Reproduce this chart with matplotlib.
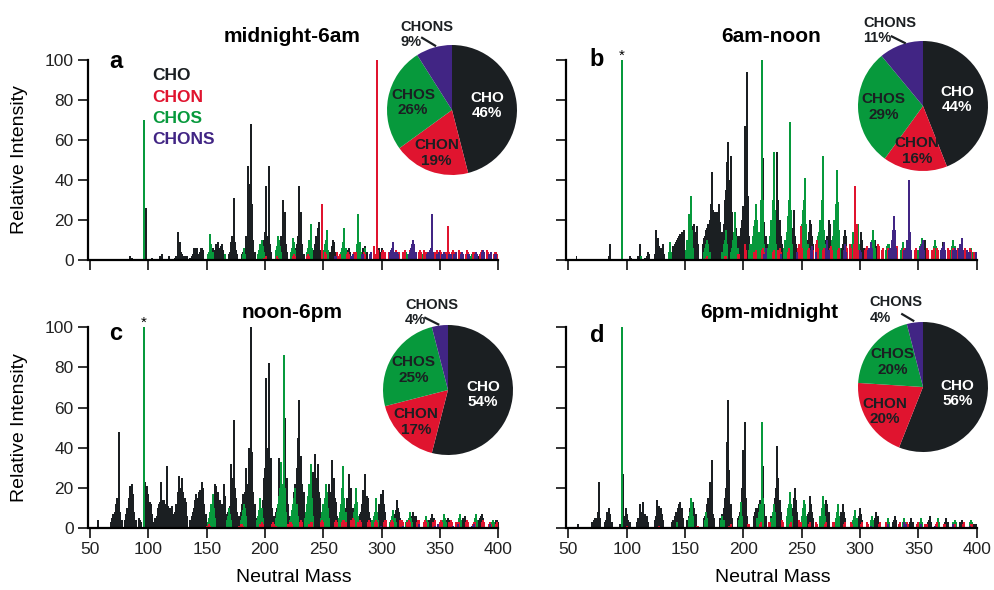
import numpy as np
import matplotlib
matplotlib.use("Agg")
import matplotlib.pyplot as plt

plt.rcParams['font.family'] = ['Liberation Sans', 'DejaVu Sans']

W, H = 994, 590

CLASSES = ['CHO', 'CHON', 'CHOS', 'CHONS']
COLORS = {'CHO': '#1b1f22', 'CHON': '#e0142f', 'CHOS': '#07993c', 'CHONS': '#412584'}

# Peak clusters: (first nominal mass, intensities at consecutive masses)
A_CHO = [(84, [2, 1, 1]), (98, [26]), (103, [1]), (110, [2, 1, 3]), (118, [2]),
         (123, [1, 2, 14, 5, 9, 4, 3, 2]), (131, [2, 1, 2]),
         (136, [1, 2, 3, 6, 6, 5, 6, 3, 4, 6, 6, 5]), (151, [2, 3, 4, 3, 6]),
         (157, [5, 8, 7, 9, 6, 7, 8, 5]), (169, [3, 4, 9, 12, 31, 9, 5, 3]),
         (180, [3, 4, 6, 5, 12, 47, 38, 20, 68, 28, 10, 4]), (196, [3, 4, 6, 10, 14, 37, 12, 47, 8, 4]),
         (210, [3, 4, 6, 8, 12, 30, 10, 24, 8, 4]), (224, [3, 4, 6, 8, 12, 37, 10, 24, 8, 3]),
         (240, [3, 4, 5, 8, 12, 16, 19, 5, 3]), (255, [3, 4, 7, 10, 9, 4]), (269, [3, 5, 4, 6, 4]),
         (283, [3, 6, 5, 7, 4]), (297, [3, 6, 4, 6, 3]), (311, [3, 4, 3, 3]), (325, [2, 3, 2, 3]),
         (339, [2, 3, 2]), (353, [2, 3, 2]), (367, [2, 3, 2]), (383, [2, 2]), (397, [2])]
A_CHON = [(199, [1, 1, 2]), (210, [2, 1]), (224, [2, 3, 2]), (236, [2, 3, 2]), (249, [28]), (251, [4, 3]),
          (262, [4, 2, 3]), (270, [3, 4, 3]), (276, [4, 3, 4]), (284, [3, 4, 3]), (293, [7, 3, 3, 100, 5]),
          (300, [4, 5, 3, 4]), (306, [4, 3, 5, 4]), (312, [5, 4, 3, 4]), (318, [4, 3, 5]), (324, [5, 4, 4, 3]),
          (332, [4, 5, 4]), (336, [5, 3, 4]), (346, [4, 5, 4]), (350, [5, 4, 3]), (355, [4, 3, 17, 4]),
          (360, [4, 5, 4]), (366, [5, 4, 3]), (372, [3, 5, 4]), (378, [4, 3, 4]), (384, [3, 4, 5]),
          (390, [5, 4, 3]), (396, [3, 4, 4, 3])]
A_CHOS = [(96, [70]), (151, [3, 4, 13, 8, 4]), (166, [3]), (181, [3, 6, 3]), (194, [3, 5, 8, 10, 7, 4]),
          (209, [5, 7, 12, 10, 7, 4]), (222, [4, 6, 11, 9, 5]), (236, [4, 6, 10, 18, 6]),
          (250, [5, 8, 10, 15, 5]), (265, [4, 6, 9, 16, 6]), (278, [4, 8, 23, 9, 4]), (286, [6]),
          (293, [4, 3]), (306, [3, 3, 2, 3]), (320, [3, 4, 3]), (334, [3, 3]), (348, [2, 3]), (362, [3, 2]),
          (376, [2, 3]), (390, [2, 3])]
A_CHONS = [(260, [2, 2]), (274, [2, 3]), (283, [3, 3]), (290, [3, 4]), (307, [4, 5, 6, 9, 4]), (313, [4, 3]),
           (323, [3, 4, 6, 8, 10, 8, 4]), (339, [3, 4, 5, 6, 23, 4]), (347, [3, 3, 4]), (352, [3, 4, 3]),
           (358, [3, 3]), (362, [3, 3, 4]), (368, [3, 4, 3]), (374, [3, 3]), (380, [3, 4, 3]),
           (386, [4, 5, 4]), (392, [3, 3, 4]), (397, [3, 3])]

B_CHO = [(57, [2]), (85, [2, 8]), (103, [2, 1]), (110, [2, 8]), (116, [1, 2, 4, 3]),
         (124, [3, 15, 6, 11, 7, 6, 4, 8, 3]), (138, [3, 4, 7, 8, 9, 10, 11, 12, 13, 14, 13, 15]),
         (152, [6, 8, 9, 12, 17, 15, 18, 14, 17, 8]),
         (165, [8, 11, 12, 15, 16, 18, 20, 28, 44, 25, 22, 24, 24, 20, 28, 19, 14]),
         (182, [14, 18, 30, 35, 49, 59, 40, 52, 24, 12]),
         (192, [8, 10, 16, 12, 10, 12, 16, 20, 27, 67, 50, 94, 32, 12, 6]),
         (207, [6, 8, 10, 8, 10, 12, 10, 14, 14, 35, 51, 19, 12, 8]),
         (224, [6, 8, 10, 12, 20, 54, 30, 20, 12, 8]), (238, [6, 8, 10, 12, 16, 25, 12, 8, 5]),
         (253, [6, 8, 10, 14, 20, 18, 12, 8]), (269, [6, 8, 10, 12, 20, 18, 10, 6]),
         (284, [6, 8, 12, 15, 12, 6]), (299, [6, 8, 14, 10, 6]), (312, [6, 10, 7, 5]), (326, [6, 9, 7, 5]),
         (340, [6, 9, 6, 4]), (355, [6, 10, 6, 4]), (370, [6, 9, 6, 4]), (385, [5, 8, 5, 4]), (398, [3, 4])]
B_CHON = [(168, [1, 2]), (184, [2, 2]), (195, [3, 3]), (201, [8, 5]), (209, [4, 3, 5]), (216, [5, 6, 4]),
          (225, [4, 5]), (230, [5, 6, 4]), (238, [4, 6]), (247, [6, 8, 17, 6]), (255, [5, 6]), (259, [6, 5]),
          (262, [8, 10, 6]), (268, [5, 6]), (274, [6, 7, 5]), (281, [5, 6]), (287, [6, 7, 6]), (291, [8, 6]),
          (295, [8, 37, 18, 5]), (304, [5, 6, 7]), (309, [7, 6]), (315, [8, 7]), (319, [5, 6]), (324, [6, 5]),
          (330, [5, 6, 7]), (337, [5, 6]), (343, [6, 5]), (347, [5, 6]), (351, [6, 5]), (357, [6, 5]),
          (362, [5, 6]), (366, [6, 5]), (371, [5, 6]), (375, [6, 5]), (379, [5, 6]), (384, [6, 5]),
          (389, [5, 6]), (394, [6, 5]), (398, [4, 4])]
B_CHOS = [(96, [100]), (112, [2]), (136, [4, 9, 4]), (151, [5, 10, 23, 15, 32, 15, 6]),
          (166, [4, 6, 8, 10, 8, 4]), (182, [4, 8, 10, 15, 8]), (189, [4, 6, 10, 14, 24, 12, 6]),
          (205, [5, 8, 8, 12, 17, 20, 28, 20, 14, 14, 30, 100, 30, 8]), (221, [6, 8, 12, 20, 30, 54, 25, 8]),
          (235, [6, 10, 14, 22, 30, 69, 25, 8]), (248, [8, 12, 18, 25, 30, 41, 18, 8]),
          (263, [8, 12, 14, 20, 30, 52, 15, 8]), (276, [10, 12, 20, 28, 45, 29, 15, 6]),
          (292, [6, 8, 14, 12, 10, 8, 18, 8]), (308, [6, 8, 10, 15, 10, 6]), (322, [5, 7, 8, 8, 5]),
          (335, [5, 6, 9, 6, 4]), (350, [5, 7, 8, 11, 6]), (362, [5, 7, 10, 7, 4]), (378, [5, 7, 10, 7]),
          (393, [4, 5, 6, 4])]
B_CHONS = [(218, [3, 6]), (232, [3]), (246, [4]), (258, [5, 7]), (262, [4]), (271, [6, 10, 5]),
           (286, [5, 8, 4]), (300, [5, 4]), (307, [5, 6, 9, 6]), (325, [5, 6, 10, 15, 22, 15, 6]),
           (338, [5, 6, 10, 8, 40, 14, 5]), (351, [6, 7, 8, 10, 5]), (369, [5, 6, 7, 9, 5]),
           (380, [5, 6, 5]), (385, [6, 8, 11, 5]), (392, [5, 4, 4]), (399, [4])]

C_CHO = [(57, [4]), (68, [3, 5, 7, 8, 12, 15, 10, 48, 8, 4]), (80, [4, 7, 10, 15, 21, 14, 22, 17, 8, 4]),
         (92, [5, 4, 3]), (97, [23, 18, 21, 17, 13, 12, 7, 3]),
         (106, [5, 6, 10, 12, 13, 23, 14, 14, 12, 9, 31, 11, 10, 10, 11, 7, 5]),
         (123, [8, 12, 18, 26, 14, 20, 25, 18, 15, 13, 6]),
         (136, [4, 6, 8, 10, 14, 17, 15, 18, 19, 17, 23, 20, 12, 7]),
         (152, [4, 6, 8, 10, 14, 22, 21, 15, 18, 14, 12, 6]), (164, [12, 22, 16, 7]),
         (168, [8, 10, 11, 32, 25, 54, 20, 15, 8, 6]),
         (178, [6, 8, 12, 17, 14, 18, 30, 22, 40, 35, 100, 38, 18, 12, 5]),
         (193, [5, 6, 7, 8, 10, 14, 25, 30, 75, 40, 82, 30, 35, 10, 5]),
         (208, [6, 8, 10, 12, 35, 18, 15, 20, 30, 55, 22, 25, 12, 6]),
         (222, [6, 8, 10, 18, 22, 30, 45, 64, 30, 36, 22, 18, 8]),
         (236, [6, 8, 8, 10, 12, 28, 20, 37, 25, 32, 18, 15, 6]),
         (250, [5, 7, 8, 10, 14, 22, 18, 34, 20, 25, 15, 13, 6]),
         (265, [5, 6, 7, 8, 10, 15, 14, 27, 18, 20, 10, 6]),
         (279, [5, 6, 7, 8, 12, 19, 15, 27, 16, 15, 8, 5]),
         (294, [5, 6, 6, 8, 12, 17, 14, 19, 12, 8, 4]), (308, [4, 5, 5, 7, 9, 14, 10, 8, 5]),
         (322, [3, 4, 4, 5, 6, 8, 6, 6, 4]), (337, [3, 3, 4, 4, 4, 5, 7, 5, 5, 3]),
         (352, [3, 3, 4, 3, 4, 5, 4, 3]), (366, [3, 3, 4, 4, 5, 6, 4, 3]),
         (380, [3, 3, 3, 4, 5, 6, 7, 5, 3]), (395, [2, 3, 3, 4, 4, 3])]
C_CHON = [(150, [1, 1, 2, 1]), (178, [1, 2, 2, 1]), (196, [2, 3, 2]), (206, [2, 3, 2, 1]), (220, [2, 3, 3, 2]),
          (230, [3, 4, 3]), (238, [2, 3, 3]), (248, [3, 4, 3]), (260, [3, 4, 3]), (266, [3, 4, 4, 3]),
          (274, [4, 5, 4]), (280, [3, 4, 3]), (288, [3, 4, 3]), (294, [3, 4, 3]), (302, [3, 4, 4]),
          (308, [3, 4, 3]), (316, [4, 4, 3]), (322, [3, 4, 3]), (330, [3, 4, 4]), (336, [3, 4, 3]),
          (344, [3, 3, 4]), (350, [3, 4, 3]), (358, [3, 4, 3]), (364, [3, 3, 3]), (372, [3, 4, 3]),
          (378, [2, 3, 3]), (386, [3, 4, 3]), (392, [2, 3, 2]), (398, [2, 3])]
C_CHOS = [(96, [100]), (151, [3, 5, 8, 12, 17, 10, 5]), (167, [4, 6, 10, 7, 4]), (179, [4, 6, 9, 12, 10, 6]),
          (193, [4, 6, 9, 15, 10, 5]), (209, [5, 8, 12, 16, 20, 33, 22, 86, 20, 8]),
          (221, [4, 6, 9, 12, 15, 20, 12, 6]), (234, [5, 8, 12, 16, 22, 32, 15, 6]),
          (248, [5, 8, 12, 15, 22, 18, 10, 5]), (263, [5, 8, 12, 20, 31, 15, 8]),
          (275, [5, 8, 12, 20, 13, 6]), (292, [4, 6, 8, 15, 8, 4]), (307, [3, 4, 6, 9, 5, 3]),
          (321, [3, 4, 5, 8, 5, 3]), (336, [3, 4, 6, 4, 3]), (351, [3, 4, 7, 5, 3]), (365, [3, 5, 7, 4]),
          (379, [3, 5, 7, 4]), (394, [3, 4, 3])]
C_CHONS = [(299, [1]), (318, [1]), (332, [2]), (346, [1]), (348, [2]), (361, [1]), (365, [2]), (377, [1]),
           (379, [2]), (393, [2])]

D_CHO = [(58, [2]), (70, [3, 3, 4, 5, 5, 8, 23, 5]), (81, [3, 4, 8, 6, 10, 7, 3]), (94, [2]),
         (97, [27, 6, 10, 7, 4, 3, 3]), (109, [3, 5, 12, 8, 8, 13, 5, 7, 6, 3]),
         (124, [4, 6, 14, 8, 11, 10, 7, 4]), (139, [3, 4, 6, 8, 8, 10, 12, 13, 10, 5]),
         (152, [4, 6, 10, 8, 12, 13, 10, 7]), (166, [5, 6, 7, 12, 15, 23, 12, 34, 7, 5]),
         (180, [5, 5, 7, 10, 15, 20, 43, 64, 29, 12, 5]), (195, [5, 6, 8, 13, 20, 39, 53, 15, 6]),
         (209, [6, 8, 10, 10, 12, 14, 12, 20, 31, 12, 6]), (224, [6, 8, 10, 15, 20, 41, 25, 14, 8]),
         (240, [5, 8, 10, 15, 20, 14, 8]), (254, [5, 7, 8, 16, 12, 8, 5]), (268, [5, 6, 8, 14, 12, 8]),
         (283, [5, 8, 12, 8, 5]), (298, [4, 6, 10, 7, 4]), (312, [4, 5, 8, 6, 3]), (328, [3, 4, 6, 4]),
         (343, [3, 5, 3]), (358, [3, 4, 6, 3]), (373, [3, 5, 3]), (386, [3, 4, 3]), (398, [2, 2])]
D_CHON = [(100, [1]), (128, [1]), (160, [1, 1]), (188, [1, 2]), (204, [2, 2]), (214, [2, 3]), (222, [3, 3]),
          (233, [4, 3]), (240, [2, 3]), (248, [4, 3]), (256, [2, 3]), (262, [3, 2]), (270, [2, 3]),
          (277, [3, 3]), (286, [2, 3]), (292, [3, 2]), (301, [2, 3]), (306, [3, 2]), (316, [2, 3]),
          (322, [3, 2]), (333, [2, 3]), (340, [3, 2]), (349, [2, 3]), (356, [2, 2]), (365, [2, 3]),
          (372, [2, 2]), (380, [2, 2]), (388, [2, 3]), (395, [2, 2])]
D_CHOS = [(96, [100]), (143, [3]), (153, [5, 8, 15, 13, 6]), (167, [4, 8, 5]), (181, [4, 6, 4]),
          (196, [4, 6, 13, 6]), (212, [5, 8, 12, 10, 53, 15]), (224, [5, 8, 12, 8]),
          (237, [6, 10, 12, 18, 12, 6]), (250, [6, 10, 14, 12, 6]), (266, [6, 10, 16, 12, 6]),
          (279, [5, 8, 12, 6]), (294, [4, 6, 9, 5]), (309, [4, 6, 4]), (323, [3, 5, 3]), (337, [3, 5, 3]),
          (351, [3, 5, 3]), (366, [3, 5, 3]), (380, [3, 4, 3]), (394, [3, 4, 3])]
D_CHONS = [(309, [1]), (324, [2]), (338, [3, 2]), (352, [2]), (364, [1]), (380, [2]), (394, [1])]

# pie shares in % (CHO, CHON, CHOS, CHONS)
PIE_A = [46, 19, 26, 9]
PIE_B = [44, 16, 29, 11]
PIE_C = [54, 17, 25, 4]
PIE_D = [56, 20, 20, 4]

TITLES = ['midnight-6am', '6am-noon', 'noon-6pm', '6pm-midnight']
LETTERS = ['a', 'b', 'c', 'd']


def expand(clusters):
    masses, heights = [], []
    for start, hs in clusters:
        for k, h in enumerate(hs):
            masses.append(start + k)
            heights.append(h)
    return masses, heights


# layout (pixels)
panels = [
    dict(rect=(87.7, 260.0, 413.0, 200.5), spectra=[A_CHO, A_CHON, A_CHOS, A_CHONS], pie=PIE_A,
         pc=(452, 110), chons=(-0.80, 1.16), line=((-0.46, 1.11), (-0.26, 0.99)),
         title=(292, 37), letter=(116, 62), star=None, ylab=True, xlab=False),
    dict(rect=(566.0, 260.0, 413.1, 200.5), spectra=[B_CHO, B_CHON, B_CHOS, B_CHONS], pie=PIE_B,
         pc=(923, 106), chons=(-0.92, 1.16), line=((-0.48, 1.07), (-0.28, 0.97)),
         title=(771, 36), letter=(597, 60), star=(96, 102), ylab=False, xlab=False),
    dict(rect=(87.7, 528.3, 413.0, 201.0), spectra=[C_CHO, C_CHON, C_CHOS, C_CHONS], pie=PIE_C,
         pc=(448, 390), chons=(-0.66, 1.19), line=((-0.35, 1.11), (-0.15, 1.01)),
         title=(292, 312), letter=(116, 334), star=(96, 102), ylab=True, xlab=True),
    dict(rect=(566.0, 528.3, 413.1, 201.0), spectra=[D_CHO, D_CHON, D_CHOS, D_CHONS], pie=PIE_D,
         pc=(923, 387), chons=(-0.82, 1.18), line=((-0.32, 1.12), (-0.15, 1.02)),
         title=(769, 313), letter=(597, 335), star=None, ylab=False, xlab=True),
]

fig = plt.figure(figsize=(W / 100, H / 100), dpi=100)
R = 65
draw_order = ['CHO', 'CHOS', 'CHON', 'CHONS']

for i, p in enumerate(panels):
    x0, ybot, w, h = p['rect']
    ax = fig.add_axes([x0 / W, (H - ybot) / H, w / W, h / H])
    spectra = dict(zip(CLASSES, p['spectra']))
    for cls in draw_order:
        m, v = expand(spectra[cls])
        ax.bar(m, v, width=1.7, color=COLORS[cls], linewidth=0)
    ax.set_xlim(48, 402)
    ax.set_ylim(0, 100)
    for s in ['top', 'right']:
        ax.spines[s].set_visible(False)
    ax.spines['left'].set_bounds(0, 100)
    ax.spines['bottom'].set_bounds(50, 400)
    for s in ['left', 'bottom']:
        ax.spines[s].set_linewidth(1.6)
    ax.set_xticks(np.arange(50, 401, 50))
    ax.set_yticks(np.arange(0, 101, 20))
    ax.tick_params(length=7, width=1.3, labelsize=12.5, pad=3, colors='#222222')
    if not p['xlab']:
        ax.tick_params(axis='x', labelbottom=False)
    if not p['ylab']:
        ax.tick_params(axis='y', labelleft=False)
    if p['star']:
        ax.text(p['star'][0], p['star'][1], '*', ha='center', va='center', fontsize=11, clip_on=False)

    tx, ty = p['title']
    fig.text(tx / W, 1 - ty / H, TITLES[i], ha='center', va='center', fontsize=15, fontweight='bold')
    lx, ly = p['letter']
    fig.text(lx / W, 1 - ly / H, LETTERS[i], ha='center', va='center', fontsize=17, fontweight='bold')
    if p['ylab']:
        fig.text(20 / W, 1 - (ybot - h / 2) / H, 'Relative Intensity', rotation=90,
                 ha='center', va='center', fontsize=14)
    if p['xlab']:
        fig.text((x0 + w / 2) / W, 1 - 578 / H, 'Neutral Mass', ha='center', va='center', fontsize=14)

    # pie inset
    cx, cy = p['pc']
    pax = fig.add_axes([(cx - R) / W, (H - cy - R) / H, 2 * R / W, 2 * R / H])
    pax.pie(p['pie'], colors=[COLORS[c] for c in CLASSES], startangle=90, counterclock=False,
            wedgeprops=dict(linewidth=0))
    pax.set_xlim(-1, 1)
    pax.set_ylim(-1, 1)
    cum = 0
    for cls, share, rr in zip(CLASSES[:3], p['pie'][:3], [0.54, 0.70, 0.61]):
        ang = np.deg2rad(90 - (cum + share / 2) * 3.6)
        cum += share
        pax.text(rr * np.cos(ang), rr * np.sin(ang), f'{cls}\n{share}%', ha='center', va='center',
                 fontsize=11, fontweight='bold', linespacing=1.15,
                 color='white' if cls == 'CHO' else '#1b1f22')
    qx, qy = p['chons']
    pax.text(qx, qy, f'CHONS\n{p["pie"][3]}%', ha='left', va='center', fontsize=10.5,
             fontweight='bold', linespacing=1.15, color='#1b1f22')
    (l1x, l1y), (l2x, l2y) = p['line']
    pax.plot([l1x, l2x], [l1y, l2y], color='#1b1f22', lw=1.6, clip_on=False)

# legend of formula classes in panel a
for k, cls in enumerate(CLASSES):
    fig.text(152 / W, 1 - (76 + 21.3 * k) / H, cls, ha='left', va='center', fontsize=12.5,
             fontweight='bold', color=COLORS[cls])

fig.savefig('out.png', dpi=100)
